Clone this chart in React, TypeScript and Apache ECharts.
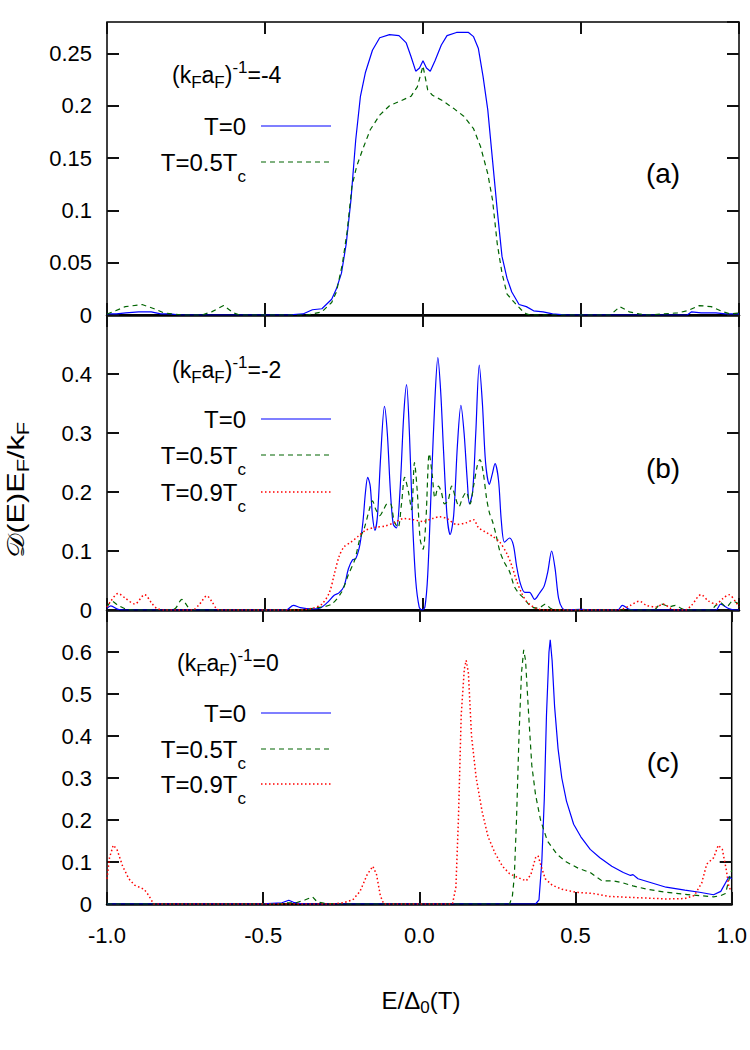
import React, { useEffect, useRef } from 'react';
import * as echarts from 'echarts';

// ---------------- data ----------------
const X_MIN = -1;
const X_MAX = 1;
const X_STEP = 0.5;
const Y_MAX = [0.28, 0.5, 0.7];
const Y_STEP = [0.05, 0.1, 0.1];
const PANEL_TAGS = ['(a)', '(b)', '(c)'];
const COUPLINGS = ['-4', '-2', '0'];
const SERIES_NAMES = ['T=0', 'T=0.5Tc', 'T=0.9Tc'];

// panel (a), (k_F a_F)^-1 = -4
const A_T0: [number, number][] = [[-1,0.001],[-0.97,0.001],[-0.94,0.002],[-0.9,0.003],[-0.86,0.003],[-0.83,0.001],[-0.8,0.001],[-0.77,0],[-0.43,0],[-0.38,0.001],[-0.35,0.005],[-0.32,0.006],[-0.289,0.015],[-0.274,0.025],[-0.258,0.04],[-0.243,0.068],[-0.228,0.11],[-0.213,0.167],[-0.198,0.209],[-0.182,0.232],[-0.16,0.253],[-0.137,0.265],[-0.106,0.268],[-0.076,0.267],[-0.053,0.26],[-0.038,0.247],[-0.023,0.233],[-0.011,0.236],[0,0.243],[0.011,0.236],[0.023,0.233],[0.038,0.243],[0.058,0.258],[0.076,0.267],[0.106,0.27],[0.144,0.27],[0.16,0.266],[0.175,0.255],[0.19,0.228],[0.205,0.196],[0.22,0.148],[0.235,0.1],[0.25,0.056],[0.266,0.035],[0.281,0.022],[0.304,0.01],[0.327,0.008],[0.35,0.004],[0.38,0.003],[0.41,0.001],[0.456,0],[0.836,0],[0.85,0.003],[0.88,0.002],[0.927,0.002],[0.957,0.001],[1,0.001]];
const A_T05: [number, number][] = [[-1,0.001],[-0.973,0.004],[-0.942,0.008],[-0.889,0.01],[-0.851,0.006],[-0.82,0.002],[-0.79,0.001],[-0.76,0],[-0.7,0],[-0.669,0.003],[-0.631,0.009],[-0.6,0.002],[-0.58,0],[-0.365,0],[-0.32,0.003],[-0.289,0.012],[-0.274,0.022],[-0.255,0.049],[-0.24,0.08],[-0.225,0.123],[-0.21,0.142],[-0.19,0.159],[-0.167,0.177],[-0.137,0.191],[-0.106,0.2],[-0.068,0.205],[-0.038,0.209],[-0.018,0.218],[0,0.238],[0.015,0.215],[0.03,0.21],[0.061,0.205],[0.099,0.197],[0.129,0.19],[0.16,0.178],[0.182,0.161],[0.205,0.135],[0.22,0.11],[0.235,0.068],[0.25,0.04],[0.266,0.02],[0.289,0.012],[0.311,0.005],[0.327,0.001],[0.34,0],[0.593,0],[0.623,0.008],[0.653,0.003],[0.684,0.001],[0.71,0],[0.805,0.002],[0.836,0.004],[0.874,0.009],[0.912,0.008],[0.95,0.003],[0.973,0.001],[1,0.002]];

// panel (b), (k_F a_F)^-1 = -2
const B_T0: [number, number][] = [[-1,0.003],[-0.988,0.007],[-0.965,0.001],[-0.942,0],[-0.433,0],[-0.41,0.008],[-0.388,0.004],[-0.35,0.002],[-0.327,0.003],[-0.304,0.012],[-0.281,0.025],[-0.266,0.029],[-0.25,0.04],[-0.236,0.07],[-0.223,0.085],[-0.213,0.087],[-0.2,0.11],[-0.19,0.15],[-0.182,0.2],[-0.175,0.225],[-0.167,0.21],[-0.16,0.16],[-0.152,0.135],[-0.144,0.16],[-0.134,0.26],[-0.122,0.345],[-0.113,0.3],[-0.103,0.2],[-0.094,0.145],[-0.084,0.139],[-0.073,0.2],[-0.061,0.33],[-0.052,0.382],[-0.043,0.3],[-0.033,0.15],[-0.023,0.05],[-0.012,0.005],[-0.003,0],[0.006,0.005],[0.015,0.06],[0.027,0.22],[0.038,0.36],[0.047,0.428],[0.056,0.37],[0.065,0.27],[0.076,0.16],[0.086,0.128],[0.097,0.16],[0.109,0.28],[0.12,0.347],[0.13,0.3],[0.14,0.22],[0.147,0.18],[0.157,0.2],[0.167,0.3],[0.178,0.415],[0.188,0.35],[0.198,0.25],[0.21,0.213],[0.219,0.23],[0.228,0.248],[0.239,0.22],[0.248,0.15],[0.258,0.115],[0.274,0.122],[0.286,0.11],[0.296,0.075],[0.308,0.045],[0.322,0.03],[0.337,0.03],[0.353,0.018],[0.368,0.028],[0.383,0.04],[0.395,0.065],[0.407,0.1],[0.418,0.07],[0.429,0.02],[0.441,0.003],[0.456,0],[0.5,0.001],[0.53,0],[0.616,0],[0.631,0.008],[0.653,0.001],[0.68,0],[0.927,0],[0.942,0.01],[0.965,0.003],[0.988,0],[1,0]];
const B_T05: [number, number][] = [[-1,0.005],[-0.985,0.015],[-0.965,0.008],[-0.942,0.002],[-0.92,0],[-0.8,0],[-0.783,0.003],[-0.763,0.018],[-0.742,0.004],[-0.73,0],[-0.37,0],[-0.35,0.003],[-0.32,0.005],[-0.289,0.01],[-0.258,0.03],[-0.236,0.06],[-0.216,0.085],[-0.2,0.12],[-0.185,0.14],[-0.17,0.17],[-0.16,0.185],[-0.149,0.17],[-0.137,0.16],[-0.125,0.17],[-0.113,0.18],[-0.103,0.18],[-0.091,0.15],[-0.079,0.14],[-0.068,0.18],[-0.058,0.225],[-0.046,0.2],[-0.036,0.17],[-0.027,0.25],[-0.018,0.2],[-0.009,0.12],[0,0.103],[0.009,0.15],[0.02,0.265],[0.029,0.23],[0.038,0.19],[0.049,0.21],[0.058,0.2],[0.068,0.18],[0.079,0.185],[0.091,0.21],[0.103,0.19],[0.114,0.175],[0.125,0.19],[0.137,0.2],[0.149,0.18],[0.16,0.21],[0.172,0.245],[0.18,0.255],[0.19,0.235],[0.201,0.19],[0.21,0.165],[0.22,0.15],[0.23,0.13],[0.243,0.1],[0.258,0.08],[0.274,0.065],[0.289,0.04],[0.304,0.028],[0.319,0.02],[0.334,0.01],[0.35,0.004],[0.365,0.003],[0.388,0.01],[0.403,0.003],[0.42,0],[0.73,0],[0.752,0.01],[0.783,0.006],[0.798,0.008],[0.82,0.002],[0.85,0],[0.91,0],[0.927,0.008],[0.942,0.012],[0.96,0.005],[0.98,0.015],[1,0.01]];
const B_T09: [number, number][] = [[-1,0.005],[-0.988,0.015],[-0.965,0.028],[-0.942,0.02],[-0.912,0.01],[-0.881,0.026],[-0.859,0.012],[-0.843,0.003],[-0.82,0],[-0.73,0],[-0.707,0.01],[-0.684,0.024],[-0.669,0.015],[-0.653,0.002],[-0.64,0],[-0.395,0],[-0.35,0.003],[-0.32,0.01],[-0.296,0.03],[-0.281,0.06],[-0.266,0.09],[-0.25,0.107],[-0.228,0.115],[-0.205,0.125],[-0.182,0.135],[-0.152,0.14],[-0.122,0.142],[-0.091,0.148],[-0.061,0.155],[-0.03,0.153],[0,0.15],[0.03,0.155],[0.053,0.158],[0.076,0.155],[0.106,0.145],[0.137,0.148],[0.16,0.153],[0.175,0.14],[0.198,0.132],[0.22,0.125],[0.243,0.115],[0.266,0.095],[0.281,0.075],[0.296,0.05],[0.311,0.03],[0.327,0.015],[0.342,0.008],[0.357,0.003],[0.38,0],[0.62,0],[0.657,0.008],[0.684,0.015],[0.707,0.008],[0.737,0.005],[0.76,0.01],[0.783,0.003],[0.8,0],[0.83,0],[0.85,0.008],[0.88,0.026],[0.904,0.015],[0.927,0.01],[0.95,0.02],[0.968,0.026],[0.988,0.015],[1,0.005]];

// panel (c), (k_F a_F)^-1 = 0
const C_T0: [number, number][] = [[-1,0],[-0.5,0],[-0.486,0.001],[-0.44,0.003],[-0.418,0.009],[-0.403,0.004],[-0.38,0.001],[-0.35,0],[0.372,0],[0.383,0.01],[0.392,0.1],[0.4,0.25],[0.407,0.45],[0.415,0.6],[0.419,0.629],[0.425,0.58],[0.433,0.47],[0.444,0.37],[0.456,0.3],[0.471,0.245],[0.494,0.19],[0.517,0.16],[0.547,0.13],[0.578,0.11],[0.616,0.09],[0.653,0.075],[0.676,0.068],[0.684,0.07],[0.7,0.06],[0.745,0.05],[0.79,0.04],[0.85,0.033],[0.897,0.028],[0.942,0.022],[0.965,0.03],[0.98,0.05],[0.991,0.065],[1,0.06]];
const C_T05: [number, number][] = [[-1,0],[-0.45,0],[-0.425,0.003],[-0.395,0.003],[-0.365,0.01],[-0.342,0.017],[-0.327,0.005],[-0.3,0.001],[-0.27,0],[0.289,0],[0.298,0.02],[0.304,0.065],[0.311,0.2],[0.319,0.4],[0.327,0.55],[0.334,0.605],[0.34,0.58],[0.35,0.45],[0.36,0.33],[0.372,0.26],[0.388,0.2],[0.41,0.15],[0.441,0.118],[0.471,0.1],[0.509,0.085],[0.547,0.075],[0.585,0.055],[0.623,0.055],[0.653,0.05],[0.684,0.043],[0.73,0.035],[0.79,0.028],[0.85,0.023],[0.897,0.02],[0.942,0.017],[0.965,0.02],[0.98,0.025],[0.992,0.06],[1,0.08]];
const C_T09: [number, number][] = [[-1,0.06],[-0.992,0.11],[-0.98,0.14],[-0.968,0.13],[-0.95,0.09],[-0.93,0.06],[-0.912,0.045],[-0.881,0.035],[-0.866,0.02],[-0.851,0],[-0.274,0],[-0.243,0.003],[-0.213,0.01],[-0.19,0.03],[-0.167,0.07],[-0.149,0.09],[-0.137,0.07],[-0.125,0.02],[-0.114,0],[0.106,0],[0.117,0.04],[0.125,0.2],[0.134,0.45],[0.144,0.56],[0.15,0.58],[0.157,0.55],[0.167,0.4],[0.182,0.3],[0.201,0.22],[0.22,0.16],[0.243,0.12],[0.266,0.09],[0.289,0.072],[0.319,0.062],[0.342,0.055],[0.357,0.07],[0.372,0.11],[0.38,0.115],[0.39,0.09],[0.403,0.06],[0.425,0.045],[0.456,0.035],[0.502,0.028],[0.555,0.025],[0.608,0.018],[0.669,0.016],[0.73,0.014],[0.79,0.012],[0.85,0.013],[0.88,0.02],[0.904,0.05],[0.92,0.095],[0.942,0.11],[0.957,0.14],[0.97,0.13],[0.983,0.08],[0.991,0.04],[1,0.03]];

const PANEL_SERIES = [
  [A_T0, A_T05],
  [B_T0, B_T05, B_T09],
  [C_T0, C_T05, C_T09],
];

// ---------------- layout / style ----------------
const FONT = '"Liberation Sans", Arial, Helvetica, sans-serif';
const LEFT = 107;
const RIGHT = 11;
const TOPS = [22, 315, 610];
const HEIGHTS = [293, 295, 294];
const LINE_STYLES = [
  { color: '#0000ff', type: 'solid' as any, width: 1.2 },
  { color: '#006400', type: [5, 4] as any, width: 1.2 },
  { color: '#ff0000', type: [1.5, 2.5] as any, width: 1.5 },
];
const LABEL_X = [172, 172, 177];
const LABEL_Y = [75, 370, 663];
const ROW_Y = [[126, 162], [419, 455, 492], [713, 749, 784]];
const TAG_Y = [173, 468, 762];

function richStyles(fs: number) {
  const s = Math.round(fs * 0.72);
  const base = { fontFamily: FONT, fill: '#000', color: '#000' };
  return {
    n: { ...base, fontSize: fs, lineHeight: fs * 1.9, verticalAlign: 'middle' },
    sb: { ...base, fontSize: s, lineHeight: s, verticalAlign: 'bottom' },
    sl: { ...base, fontSize: s, lineHeight: s, verticalAlign: 'middle', padding: [Math.round(fs * 0.6), 0, 0, 0] },
    sp: { ...base, fontSize: s, lineHeight: s, verticalAlign: 'top', padding: [Math.round(fs * 0.25), 0, 0, 0] },
  };
}

function nameToRich(name: string) {
  if (name.endsWith('Tc')) return `{n|${name.slice(0, -1)}}{sb|c}`;
  return `{n|${name}}`;
}

function textEl(x: number, y: number, text: string, fs: number, align: string, extra: any = {}) {
  return {
    type: 'text',
    x,
    y,
    z: 100,
    ...extra,
    style: {
      text,
      rich: richStyles(fs),
      fontFamily: FONT,
      fontSize: fs,
      fill: '#000',
      align,
      textAlign: align,
      verticalAlign: 'middle',
      textVerticalAlign: 'middle',
    },
  };
}

const tk = () => ({ show: true, inside: true, length: 12, lineStyle: { color: '#111', width: 2 } });

export default function App() {
  const ref = useRef<HTMLDivElement>(null);

  useEffect(() => {
    document.body.style.margin = '0';
    if (!ref.current) return;
    const chart = echarts.init(ref.current, null, { renderer: 'svg' });

    const grid: any[] = [];
    const xAxis: any[] = [];
    const yAxis: any[] = [];
    const series: any[] = [];
    const graphic: any[] = [];

    for (let p = 0; p < 3; p++) {
      grid.push({
        left: LEFT, right: RIGHT, top: TOPS[p], height: HEIGHTS[p],
        show: true, borderColor: '#000', borderWidth: 1.5,
      });
      xAxis.push({
        gridIndex: p, type: 'value', min: X_MIN, max: X_MAX, interval: X_STEP, position: 'bottom',
        axisLine: { show: true, onZero: false, lineStyle: { color: '#000', width: 2.5 } },
        axisTick: tk(),
        axisLabel: p === 2
          ? { show: true, margin: 20, fontSize: 22, fontFamily: FONT, color: '#000', formatter: (v: number) => v.toFixed(1) }
          : { show: false },
        splitLine: { show: false },
      });
      xAxis.push({
        gridIndex: p, type: 'value', min: X_MIN, max: X_MAX, interval: X_STEP, position: 'top',
        axisLine: { show: false, onZero: false },
        axisTick: tk(),
        axisLabel: { show: false },
        splitLine: { show: false },
      });
      yAxis.push({
        gridIndex: p, type: 'value', min: 0, max: Y_MAX[p], interval: Y_STEP[p], position: 'left',
        axisLine: { show: false, onZero: false },
        axisTick: tk(),
        axisLabel: { showMaxLabel: false, fontSize: 22, margin: 15, fontFamily: FONT, color: '#000' },
        splitLine: { show: false },
      });
      yAxis.push({
        gridIndex: p, type: 'value', min: 0, max: Y_MAX[p], interval: Y_STEP[p], position: 'right',
        axisLine: { show: false, onZero: false },
        axisTick: tk(),
        axisLabel: { show: false },
        splitLine: { show: false },
      });

      PANEL_SERIES[p].forEach((data, i) => {
        series.push({
          type: 'line',
          name: `${PANEL_TAGS[p]} ${SERIES_NAMES[i]}`,
          xAxisIndex: p * 2,
          yAxisIndex: p * 2,
          data,
          symbol: 'none',
          smooth: p === 1 ? 0.3 : false,
          lineStyle: LINE_STYLES[i],
        });
        graphic.push({
          type: 'line', z: 100,
          shape: { x1: 261, y1: ROW_Y[p][i], x2: 331, y2: ROW_Y[p][i] },
          style: { stroke: LINE_STYLES[i].color, lineWidth: LINE_STYLES[i].width, lineDash: i === 0 ? null : LINE_STYLES[i].type },
        });
        graphic.push(textEl(246, ROW_Y[p][i], nameToRich(SERIES_NAMES[i]), 24, 'right'));
      });

      graphic.push(textEl(LABEL_X[p], LABEL_Y[p],
        `{n|(k}{sl|F}{n|a}{sl|F}{n|)}{sp|-1}{n|=${COUPLINGS[p]}}`, 23, 'left'));
      graphic.push(textEl(663, TAG_Y[p], `{n|${PANEL_TAGS[p]}}`, 28, 'center'));
    }

    graphic.push(textEl(421, 1000, '{n|E/Δ}{sl|0}{n|(T)}', 24, 'center'));
    graphic.push(textEl(16, 490, '{n|𝒟(E)E}{sl|F}{n|/k}{sl|F}', 24, 'center', { rotation: Math.PI / 2, scaleX: 1.28 }));

    chart.setOption({
      animation: false,
      backgroundColor: '#fff',
      grid,
      xAxis,
      yAxis,
      series,
      graphic: { elements: graphic },
    });

    return () => chart.dispose();
  }, []);

  return <div ref={ref} style={{ width: 750, height: 1050 }} />;
}
